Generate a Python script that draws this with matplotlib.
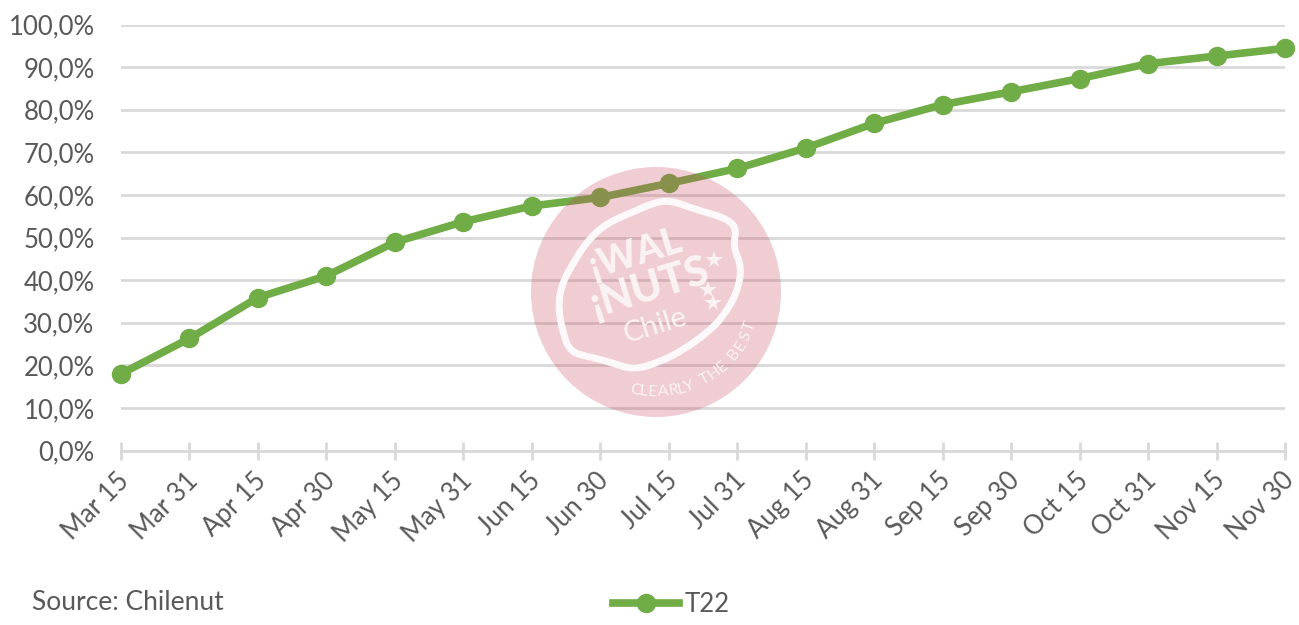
import matplotlib
matplotlib.use("Agg")
import matplotlib.pyplot as plt
import numpy as np
from matplotlib.patches import Circle, PathPatch
from matplotlib.path import Path
from matplotlib.transforms import ScaledTranslation

plt.rcParams['font.family'] = ['Lato', 'DejaVu Sans']

dates = ['Mar 15', 'Mar 31', 'Apr 15', 'Apr 30', 'May 15', 'May 31', 'Jun 15', 'Jun 30', 'Jul 15',
         'Jul 31', 'Aug 15', 'Aug 31', 'Sep 15', 'Sep 30', 'Oct 15', 'Oct 31', 'Nov 15', 'Nov 30']
t22 = [18.0, 26.3, 35.9, 41.0, 48.9, 53.7, 57.4, 59.4, 62.7,
       66.2, 71.0, 76.8, 81.2, 84.2, 87.3, 90.8, 92.6, 94.4]
y_ticks = [0, 10, 20, 30, 40, 50, 60, 70, 80, 90, 100]
y_labels = ['0,0%', '10,0%', '20,0%', '30,0%', '40,0%', '50,0%', '60,0%', '70,0%', '80,0%', '90,0%', '100,0%']

# outline of the seal in the watermark, in picture pixels
seal_x = [670, 697, 723, 737, 733, 742, 737, 723, 707, 683, 660, 633, 610, 590, 570, 563, 558, 562, 575, 588, 607, 633, 653]
seal_y = [200, 210, 217, 227, 247, 267, 293, 317, 333, 350, 362, 370, 362, 357, 352, 333, 307, 283, 260, 240, 223, 212, 203]

W, H = 1299, 625
text_col = '#595959'
green = '#70AD47'
light = '#D9D9D9'

fig = plt.figure(figsize=(W / 100, H / 100), dpi=100)
ax = fig.add_axes([121 / W, 1 - 450.5 / H, (1285 - 121) / W, (450.5 - 24.5) / H])

x = list(range(len(dates)))
ax.plot(x, t22, color=green, lw=5.5, marker='o', ms=13, label='T22', zorder=3, clip_on=False)

ax.set_xlim(0, len(dates) - 1)
ax.set_ylim(0, 100)
ax.set_yticks(y_ticks)
ax.set_yticklabels(y_labels, fontsize=18.5, color=text_col)
ax.set_xticks(x)
ax.set_xticklabels(dates, fontsize=18.5, color=text_col, rotation=45, ha='right', rotation_mode='anchor')
ax.grid(axis='y', color=light, lw=2)
ax.set_axisbelow(True)
ax.tick_params(axis='y', length=0, pad=19)
ax.tick_params(axis='x', length=13, width=2, color=light, direction='inout', pad=5)
for s in ['top', 'left', 'right']:
    ax.spines[s].set_visible(False)
ax.spines['bottom'].set_color(light)
ax.spines['bottom'].set_linewidth(2)

shift = ScaledTranslation(-3 / 72, -1 / 72, fig.dpi_scale_trans)
for lab in ax.get_xticklabels():
    lab.set_transform(lab.get_transform() + shift)

# watermark on top of the line
overlay = fig.add_axes([0, 0, 1, 1], facecolor='none')
overlay.set_xlim(0, W)
overlay.set_ylim(H, 0)
overlay.axis('off')
overlay.add_patch(Circle((656, 292), 125, color='#C8485A', alpha=0.27, lw=0))

# closed smooth ring through the midpoints of the outline
pts = np.column_stack([seal_x, seal_y])
mids = (pts + np.roll(pts, -1, axis=0)) / 2
verts = [mids[-1]]
codes = [Path.MOVETO]
for p, m in zip(pts, mids):
    verts += [p, m]
    codes += [Path.CURVE3, Path.CURVE3]
overlay.add_patch(PathPatch(Path(verts, codes), fc='none', ec='white', alpha=0.9, lw=5))

seal_white = '#FBF3F3'
overlay.text(636, 254, '¡WAL', color=seal_white, fontsize=27, fontweight='black', ha='center', va='center', rotation=17)
overlay.text(650, 288, '¡NUTS', color=seal_white, fontsize=30, fontweight='black', ha='center', va='center', rotation=17)
overlay.text(655, 326, 'Chile', color=seal_white, fontsize=21, ha='center', va='center', rotation=17)
overlay.plot([714, 708, 713], [260, 290, 303], ls='none', marker='*', color=seal_white, ms=13, mew=0)

# curved motto under the seal, narrow letters and spaces take less of the arc
motto = 'CLEARLY THE BEST'
widths = [0.5 if ch in ' IL' else 1.0 for ch in motto]
steps = np.cumsum(widths) - np.array(widths) / 2
angles = 105 - 85 * steps / steps[-1]
for ch, a in zip(motto, angles):
    px = 656 + 100 * np.cos(np.radians(a))
    py = 292 + 100 * np.sin(np.radians(a))
    overlay.text(px, py, ch, color=seal_white, fontsize=11.5, ha='center', va='center', rotation=90 - a)

fig.text(32 / W, 1 - 603 / H, 'Source: Chilenut', fontsize=19, color=text_col, va='center')
handles, labels = ax.get_legend_handles_labels()
fig.legend(handles, labels, loc='center', bbox_to_anchor=(671 / W, 1 - 604 / H), frameon=False,
           fontsize=18.5, labelcolor=text_col, handlelength=2.6, handletextpad=0.2)

fig.savefig('out.png', dpi=100)
